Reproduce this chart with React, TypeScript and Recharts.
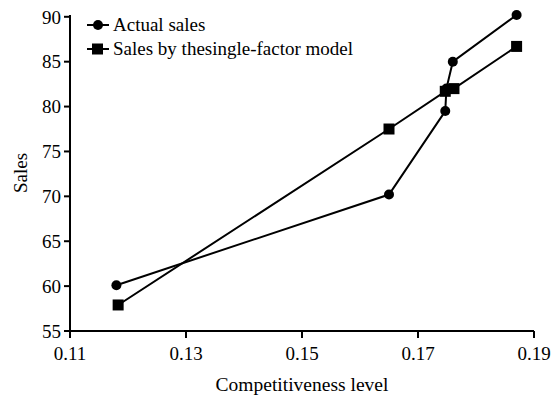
import { Scatter, ScatterChart, XAxis, YAxis } from "recharts";

const xTicks = [0.11, 0.13, 0.15, 0.17, 0.19];
const yTicks = [55, 60, 65, 70, 75, 80, 85, 90];

const actualLevel = [0.118, 0.165, 0.1747, 0.1749, 0.176, 0.187];
const actualSales = [60.1, 70.2, 79.5, 82.0, 85.0, 90.2];

const modelLevel = [0.1183, 0.165, 0.1747, 0.1762, 0.187];
const modelSales = [57.9, 77.5, 81.7, 82.0, 86.7];

const actualData = actualLevel.map((x, i) => ({ x, y: actualSales[i] }));
const modelData = modelLevel.map((x, i) => ({ x, y: modelSales[i] }));

const FONT = "'Liberation Serif', 'Times New Roman', serif";

function Dot(props: any) {
  return <circle cx={props.cx} cy={props.cy} r={5} fill="#000" />;
}

function Box(props: any) {
  return <rect x={props.cx - 5.5} y={props.cy - 5.5} width={11} height={11} fill="#000" />;
}

function SalesLabel(props: any) {
  const { y, height } = props.viewBox;
  const cy = y + height / 2;
  return (
    <text x={20} y={cy} transform={`rotate(-90, 20, ${cy})`} textAnchor="middle" dominantBaseline="central" fontSize={19} fontFamily={FONT} fill="#000">
      Sales
    </text>
  );
}

function LegendBox() {
  const rows = [
    { name: "Actual sales", square: false },
    { name: "Sales by thesingle-factor model", square: true }
  ];
  return (
    <div style={{ position: "absolute", left: 87, top: 13, fontFamily: FONT, fontSize: 19, color: "#000", lineHeight: "22px" }}>
      {rows.map((row) => (
        <div key={row.name} style={{ display: "flex", alignItems: "center", height: 24 }}>
          <svg width={24} height={14} style={{ marginRight: 2 }}>
            <line x1={0} y1={7} x2={22} y2={7} stroke="#000" strokeWidth={2} />
            {row.square ? <rect x={5} y={1.5} width={11} height={11} fill="#000" /> : <circle cx={11} cy={7} r={5} fill="#000" />}
          </svg>
          <span>{row.name}</span>
        </div>
      ))}
    </div>
  );
}

export default function App() {
  return (
    <div style={{ position: "absolute", left: 0, top: 0, width: 552, height: 400, background: "#fff" }}>
      <ScatterChart width={552} height={400} margin={{ top: 15, right: 18, left: 0, bottom: 0 }}>
        <XAxis
          type="number"
          dataKey="x"
          domain={[0.11, 0.19]}
          ticks={xTicks}
          tickFormatter={(v: number) => v.toFixed(2)}
          height={69}
          tickSize={7}
          tickMargin={9}
          axisLine={{ stroke: "#000", strokeWidth: 2 }}
          tickLine={{ stroke: "#000", strokeWidth: 2 }}
          tick={{ fill: "#000", fontSize: 19, fontFamily: FONT }}
          interval={0}
          label={{ value: "Competitiveness level", position: "insideBottom", offset: 9, fill: "#000", fontSize: 19.5, fontFamily: FONT }}
        />
        <YAxis
          type="number"
          dataKey="y"
          domain={[55, 90]}
          ticks={yTicks}
          width={70}
          tickSize={6}
          tickMargin={3}
          axisLine={{ stroke: "#000", strokeWidth: 2 }}
          tickLine={{ stroke: "#000", strokeWidth: 2 }}
          tick={{ fill: "#000", fontSize: 19, fontFamily: FONT }}
          interval={0}
          label={<SalesLabel />}
        />
        <Scatter name="Actual sales" data={actualData} line={{ stroke: "#000", strokeWidth: 2 }} shape={<Dot />} isAnimationActive={false} />
        <Scatter name="Sales by thesingle-factor model" data={modelData} line={{ stroke: "#000", strokeWidth: 2 }} shape={<Box />} isAnimationActive={false} />
      </ScatterChart>
      <LegendBox />
    </div>
  );
}
